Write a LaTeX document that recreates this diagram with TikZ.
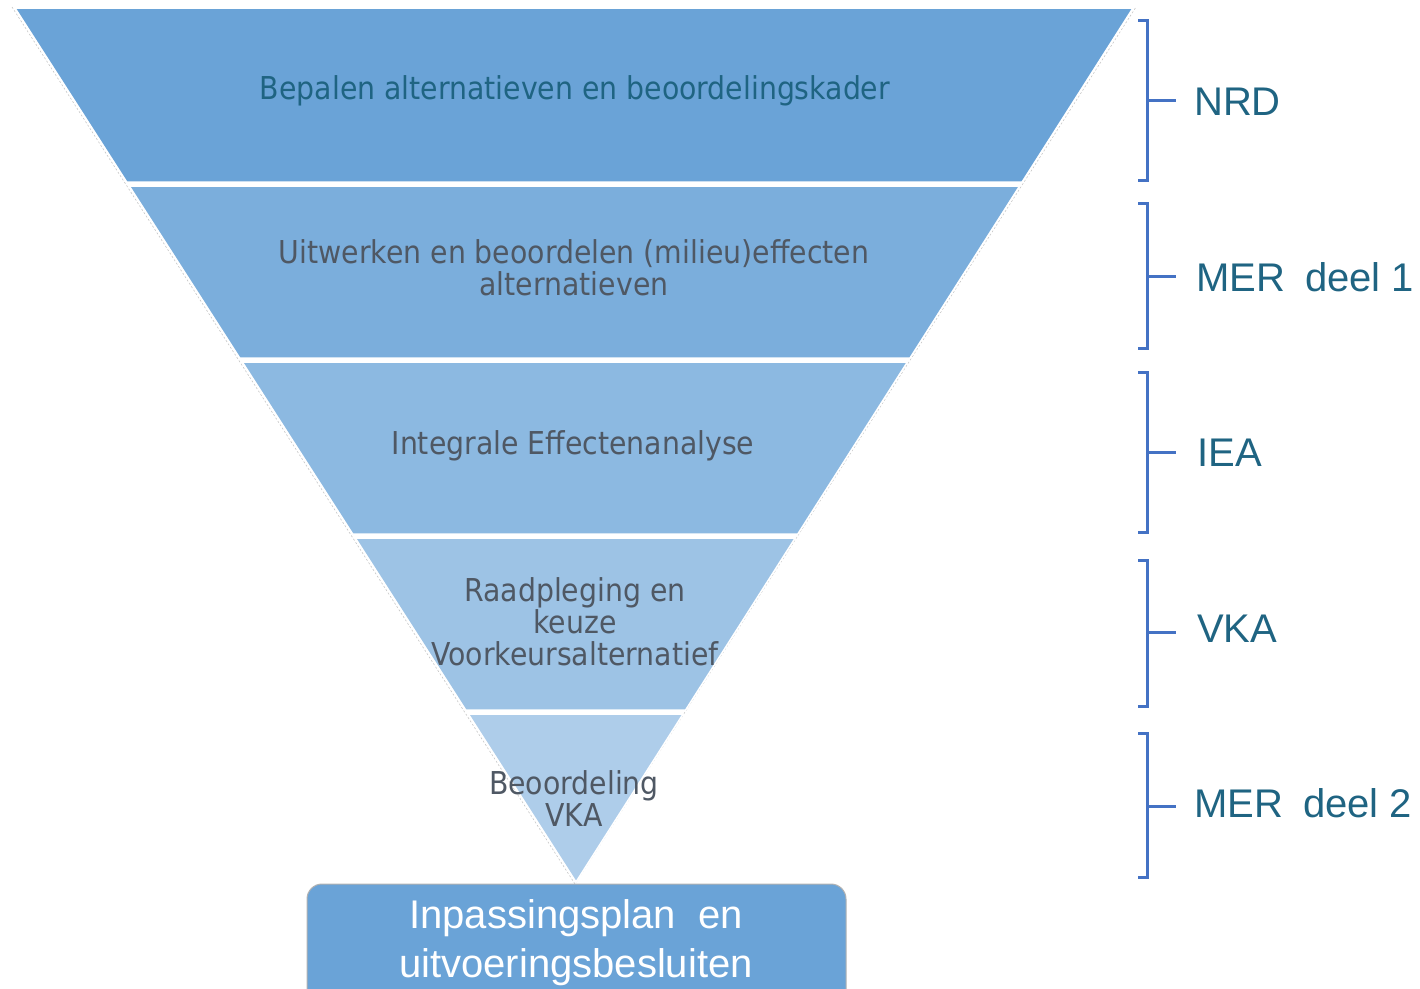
\documentclass[tikz,border=0pt]{standalone}
\usepackage{fontspec}
\setmainfont{Liberation Sans}
\newfontfamily\bandfont{DejaVu Sans Condensed}
\definecolor{bandA}{HTML}{6AA3D7}
\definecolor{bandB}{HTML}{7BAEDC}
\definecolor{bandC}{HTML}{8CB9E1}
\definecolor{bandD}{HTML}{9DC3E5}
\definecolor{bandE}{HTML}{AECDEA}
\definecolor{brk}{HTML}{4472C4}
\definecolor{tealtxt}{HTML}{1F6482}
\definecolor{graytxt}{HTML}{4F5864}
\tikzset{
  bandtxt/.style={font=\bandfont\fontsize{31.5}{32}\selectfont, text=graytxt, align=center, inner sep=0},
  lbl/.style={font=\fontsize{40}{44}\selectfont, text=tealtxt, anchor=west, inner sep=0},
  bracket/.style={draw=brk, line width=3pt},
  edge/.style={draw=white, line width=1.5pt, line join=miter},
  rim/.style={draw=gray!45, line width=0.6pt, dash pattern=on 2pt off 2pt}
}
\begin{document}
\begin{tikzpicture}[x=1pt,y=-1pt]
\useasboundingbox (0,0) rectangle (1420,988);
% faint outer rim of the funnel
\draw[rim] (12,7) -- (575,884) -- (1136,7);
% funnel bands
\path[fill=bandA, edge] (15,8) -- (1133,8) -- (1022.1,182) -- (126.7,182) -- cycle;
\path[fill=bandB, edge] (129.3,186) -- (1019.6,186) -- (910.0,358) -- (239.7,358) -- cycle;
\path[fill=bandC, edge] (242.3,362) -- (907.4,362) -- (797.8,534) -- (352.7,534) -- cycle;
\path[fill=bandD, edge] (355.3,538) -- (795.2,538) -- (685.6,710) -- (465.7,710) -- cycle;
\path[fill=bandE, edge] (468.3,714) -- (683.1,714) -- (576,882) -- cycle;
% band texts
\node[bandtxt, text=tealtxt] (t1) at (575,91) {Bepalen alternatieven en beoordelingskader};
\node[bandtxt] (t2) at (574,268) {Uitwerken en beoordelen (milieu)effecten\\alternatieven};
\node[bandtxt] (t3) at (573,446) {Integrale Effectenanalyse};
\node[bandtxt] (t4) at (575,622) {Raadpleging en\\keuze\\Voorkeursalternatief};
\node[bandtxt] (t5) at (574,799) {Beoordeling\\VKA};
% bottom box
\path[fill=bandA, draw=gray!60, line width=1pt, rounded corners=15pt] (307,1010) rectangle (846,884);
\node[font=\fontsize{40}{49}\selectfont, text=white, align=center, inner sep=0] (plan) at (576,943) {Inpassingsplan\hspace{22pt}en\\uitvoeringsbesluiten};
% brackets
\draw[bracket] (1138,20) -- (1147,20) -- (1147,180) -- (1138,180);
\draw[bracket] (1147,100) -- (1176,100);
\node[lbl] (l1) at (1194,102) {NRD};
\draw[bracket] (1138,203) -- (1147,203) -- (1147,348) -- (1138,348);
\draw[bracket] (1147,276) -- (1176,276);
\node[lbl] (l2) at (1196,277) {MER\hspace{20pt}deel 1};
\draw[bracket] (1138,372) -- (1147,372) -- (1147,532) -- (1138,532);
\draw[bracket] (1147,452) -- (1176,452);
\node[lbl] (l3) at (1197,453) {IEA};
\draw[bracket] (1138,560) -- (1147,560) -- (1147,706) -- (1138,706);
\draw[bracket] (1147,632) -- (1176,632);
\node[lbl] (l4) at (1197,629) {VKA};
\draw[bracket] (1138,733) -- (1147,733) -- (1147,877) -- (1138,877);
\draw[bracket] (1147,806) -- (1176,806);
\node[lbl] (l5) at (1194,803) {MER\hspace{20pt}deel 2};
\end{tikzpicture}
\end{document}
